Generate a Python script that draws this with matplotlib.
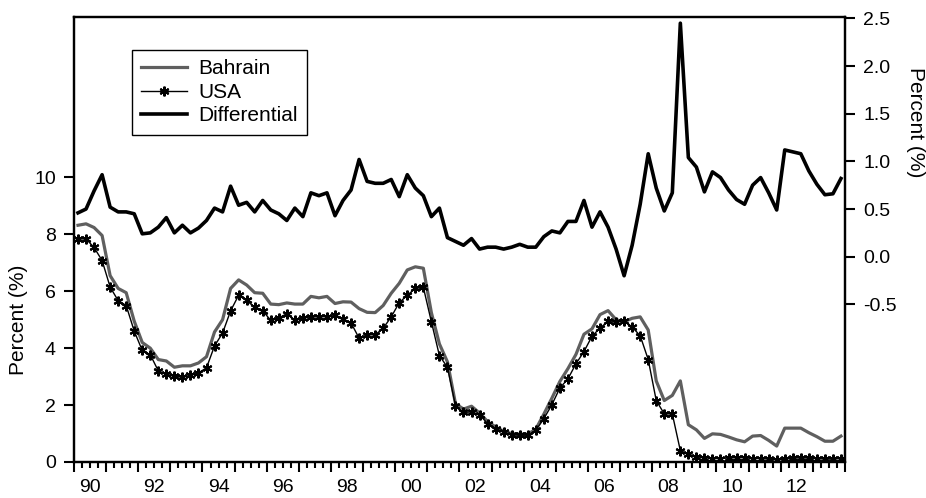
import numpy as np
import pandas as pd
import matplotlib
matplotlib.use("Agg")
import matplotlib.pyplot as plt
from matplotlib.ticker import FixedLocator, NullFormatter

plt.rcParams['font.family'] = ['Liberation Sans', 'DejaVu Sans']

# quarterly data 1990Q1 - 2013Q4
quarters = pd.period_range('1990Q1', '2013Q4', freq='Q')

bahrain = [8.32, 8.37, 8.24, 7.96, 6.55, 6.10, 5.95, 4.95, 4.20, 4.00, 3.60, 3.55,
           3.33, 3.38, 3.38, 3.48, 3.70, 4.57, 5.00, 6.10, 6.40, 6.22, 5.95, 5.93,
           5.55, 5.53, 5.59, 5.55, 5.55, 5.82, 5.77, 5.82, 5.57, 5.63, 5.62, 5.39,
           5.26, 5.25, 5.50, 5.93, 6.28, 6.75, 6.86, 6.81, 5.25, 4.15, 3.52, 2.05,
           1.86, 1.96, 1.72, 1.42, 1.23, 1.08, 1.00, 0.98, 0.98, 1.15, 1.68, 2.24,
           2.83, 3.28, 3.78, 4.49, 4.68, 5.18, 5.32, 5.00, 4.93, 5.05, 5.10, 4.64,
           2.85, 2.16, 2.34, 2.85, 1.31, 1.13, 0.83, 0.99, 0.97, 0.88, 0.78, 0.71,
           0.91, 0.93, 0.76, 0.56, 1.19, 1.19, 1.19, 1.03, 0.89, 0.73, 0.73, 0.91]

usa = [7.84, 7.84, 7.54, 7.08, 6.15, 5.67, 5.50, 4.60, 3.92, 3.77, 3.20, 3.09,
       3.01, 2.98, 3.05, 3.13, 3.31, 4.08, 4.53, 5.31, 5.86, 5.68, 5.43, 5.31,
       4.98, 5.06, 5.21, 4.98, 5.06, 5.10, 5.10, 5.11, 5.15, 5.02, 4.89, 4.35,
       4.47, 4.47, 4.70, 5.10, 5.60, 5.86, 6.10, 6.14, 4.93, 3.74, 3.33, 1.98,
       1.74, 1.76, 1.66, 1.35, 1.17, 1.05, 0.95, 0.94, 0.94, 1.11, 1.52, 2.01,
       2.60, 2.92, 3.45, 3.88, 4.42, 4.71, 4.94, 4.91, 4.97, 4.74, 4.44, 3.60,
       2.16, 1.69, 1.69, 0.40, 0.28, 0.18, 0.15, 0.12, 0.12, 0.14, 0.15, 0.15,
       0.12, 0.12, 0.10, 0.08, 0.10, 0.14, 0.14, 0.14, 0.12, 0.10, 0.10, 0.12]

differential = [0.46, 0.50, 0.69, 0.86, 0.52, 0.47, 0.47, 0.45, 0.24, 0.25, 0.31, 0.41,
                0.25, 0.33, 0.25, 0.30, 0.38, 0.51, 0.47, 0.74, 0.54, 0.57, 0.47, 0.59,
                0.49, 0.45, 0.38, 0.51, 0.42, 0.67, 0.64, 0.67, 0.43, 0.59, 0.70, 1.02,
                0.79, 0.77, 0.77, 0.81, 0.63, 0.86, 0.72, 0.64, 0.42, 0.51, 0.20, 0.16,
                0.12, 0.19, 0.08, 0.10, 0.10, 0.08, 0.10, 0.13, 0.10, 0.10, 0.21, 0.27,
                0.25, 0.37, 0.37, 0.59, 0.31, 0.47, 0.31, 0.08, -0.20, 0.12, 0.55, 1.08,
                0.72, 0.48, 0.67, 2.45, 1.04, 0.94, 0.68, 0.89, 0.83, 0.70, 0.60, 0.55,
                0.75, 0.83, 0.67, 0.49, 1.12, 1.10, 1.08, 0.90, 0.76, 0.65, 0.66, 0.82]

year_labels = ['90', '92', '94', '96', '98', '00', '02', '04', '06', '08', '10', '12']

fs_tick = 14
fs_text = 15

# plot each quarter in the middle of its quarter
t = quarters.year + (quarters.quarter - 1) / 4 + 0.125

fig = plt.figure(figsize=(9.26, 4.98), dpi=100)
ax1 = fig.add_axes([0.0799, 0.0723, 0.8326, 0.8936])
ax2 = ax1.twinx()

l1, = ax1.plot(t, bahrain, color='#5f5f5f', lw=2.3, label='Bahrain')
l2, = ax1.plot(t, usa, color='black', lw=1.0, marker=(6, 2, 0), ms=7, mew=1.5,
               label='USA')
l3, = ax2.plot(t, differential, color='black', lw=2.6, label='Differential')

ax1.set_xlim(1990, 2014)
ax1.set_ylim(0, 15.64)
ax2.set_ylim(-2.154, 2.515)

ax1.set_yticks([0, 2, 4, 6, 8, 10])
ax2.set_yticks([-0.5, 0.0, 0.5, 1.0, 1.5, 2.0, 2.5])
ax2.set_yticklabels(['-0.5', '0.0', '0.5', '1.0', '1.5', '2.0', '2.5'])

# yearly major ticks, quarterly minor ticks, labels at mid-year
ax1.xaxis.set_major_locator(FixedLocator(range(1990, 2015)))
ax1.xaxis.set_minor_locator(FixedLocator([y + q / 4 for y in range(1990, 2014) for q in (1, 2, 3)]))
ax1.xaxis.set_major_formatter(NullFormatter())
ax1.tick_params(axis='x', which='major', direction='out', length=7, width=1.5)
ax1.tick_params(axis='x', which='minor', direction='out', length=4, width=1.5)

sec = ax1.secondary_xaxis('bottom')
sec.set_xticks([int(('19' if s >= '50' else '20') + s) + 0.5 for s in year_labels])
sec.set_xticklabels(year_labels)
sec.tick_params(length=0, pad=12, labelsize=fs_tick)
sec.spines['bottom'].set_visible(False)

ax1.tick_params(axis='y', direction='out', length=7, width=1.5, labelsize=fs_tick, pad=6)
ax2.tick_params(axis='y', direction='out', length=7, width=1.5, labelsize=fs_tick, pad=6)

for ax in (ax1, ax2):
    for sp in ax.spines.values():
        sp.set_linewidth(1.6)

ax1.set_ylabel('Percent (%)', fontsize=fs_text)
ax1.yaxis.set_label_coords(-0.060, 0.319)
ax2.set_ylabel('Percent (%)', fontsize=fs_text, rotation=-90, va='center')
ax2.yaxis.set_label_coords(1.091, 0.763)

leg = ax2.legend(handles=[l1, l2, l3], loc='upper left', bbox_to_anchor=(0.075, 0.926),
                 fontsize=fs_text, frameon=True, fancybox=False, edgecolor='black',
                 framealpha=1, handlelength=2.2, labelspacing=0.22, borderpad=0.45,
                 handletextpad=0.53, borderaxespad=0)
leg.get_frame().set_linewidth(1.0)

fig.savefig('out.png', dpi=100)
